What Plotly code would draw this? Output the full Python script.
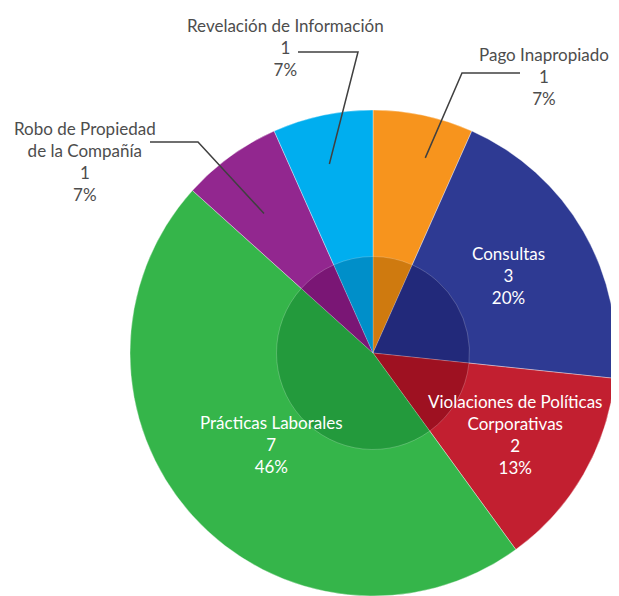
import math
import plotly.graph_objects as go

categories = [
    "Pago Inapropiado",
    "Consultas",
    "Violaciones de Políticas Corporativas",
    "Prácticas Laborales",
    "Robo de Propiedad de la Compañía",
    "Revelación de Información",
]
display_labels = [
    "Pago Inapropiado",
    "Consultas",
    "Violaciones de Políticas<br>Corporativas",
    "Prácticas Laborales",
    "Robo de Propiedad<br>de la Compañía",
    "Revelación de Información",
]
counts = [1, 3, 2, 7, 1, 1]
percent_labels = ["7%", "20%", "13%", "46%", "7%", "7%"]

colors = ["#F7941D", "#2E3A93", "#C21F30", "#35B54A", "#92278F", "#00AEEF"]
inner_colors = ["#CF7A0F", "#22297A", "#9E1121", "#239A3C", "#7A1675", "#008FC9"]

# page body has an 8px margin, so the figure is drawn 8px in from the window edge
OFF = 8
W, H = 611, 588
CX, CY, R = 373, 353, 243      # window pixels
R_IN = 96.5
FONT = "Lato"

# label placement: inside -> radius in px
# outside -> text pos, elbow points of the leader line, end radius, angle nudge
placement = {
    "Pago Inapropiado": ("out", 544, 77, (520, 73), (462, 73), 202, 3),
    "Consultas": ("in", 156),
    "Violaciones de Políticas Corporativas": ("in", 164),
    "Prácticas Laborales": ("in", 137),
    "Robo de Propiedad de la Compañía": ("out", 85, 161, (150, 142), (198, 142), 177, -2),
    "Revelación de Información": ("out", 285, 47, (298, 52), (358, 52), 194, -1),
}


def px(x):
    return (x - OFF) / W


def py(y):
    return 1 - (y - OFF) / H


def polar(theta, r):
    a = math.radians(theta)
    return CX + r * math.sin(a), CY - r * math.cos(a)


fig = go.Figure()
fig.add_trace(go.Pie(
    labels=categories,
    values=counts,
    sort=False,
    direction="clockwise",
    rotation=0,
    marker=dict(colors=colors, line=dict(color="rgba(255,255,255,0.6)", width=0.6)),
    textinfo="none",
    hoverinfo="skip",
    showlegend=False,
    domain=dict(x=[px(CX - R), min(1, px(CX + R))], y=[max(0, py(CY + R)), py(CY - R)]),
))
fig.add_trace(go.Pie(
    labels=categories,
    values=counts,
    sort=False,
    direction="clockwise",
    rotation=0,
    marker=dict(colors=inner_colors, line=dict(color="rgba(255,255,255,0.35)", width=0.6)),
    textinfo="none",
    hoverinfo="skip",
    showlegend=False,
    domain=dict(x=[px(CX - R_IN), px(CX + R_IN)], y=[py(CY + R_IN), py(CY - R_IN)]),
))

total = sum(counts)
cum = 0
for cat, lab, n, pct in zip(categories, display_labels, counts, percent_labels):
    mid = (cum + n / 2) / total * 360
    cum += n
    text = f"{lab}<br>{n}<br>{pct}"
    p = placement[cat]
    if p[0] == "in":
        x, y = polar(mid, p[1])
        color = "white"
    else:
        _, x, y, e1, e2, r_end, nudge = p
        ex, ey = polar(mid + nudge, r_end)
        color = "#4D4D4D"
        path = f"M {px(e1[0])},{py(e1[1])} L {px(e2[0])},{py(e2[1])} L {px(ex)},{py(ey)}"
        fig.add_shape(
            type="path", path=path, xref="paper", yref="paper", layer="above",
            line=dict(color="#404040", width=1.5),
        )
    fig.add_annotation(
        x=px(x), y=py(y), xref="paper", yref="paper", text=text, showarrow=False,
        xanchor="center", yanchor="middle", align="center",
        font=dict(family=FONT, size=17, color=color),
    )

fig.update_layout(
    width=W,
    height=H,
    margin=dict(l=0, r=0, t=0, b=0),
    paper_bgcolor="white",
    plot_bgcolor="white",
    showlegend=False,
)

fig.write_html("out.html")
